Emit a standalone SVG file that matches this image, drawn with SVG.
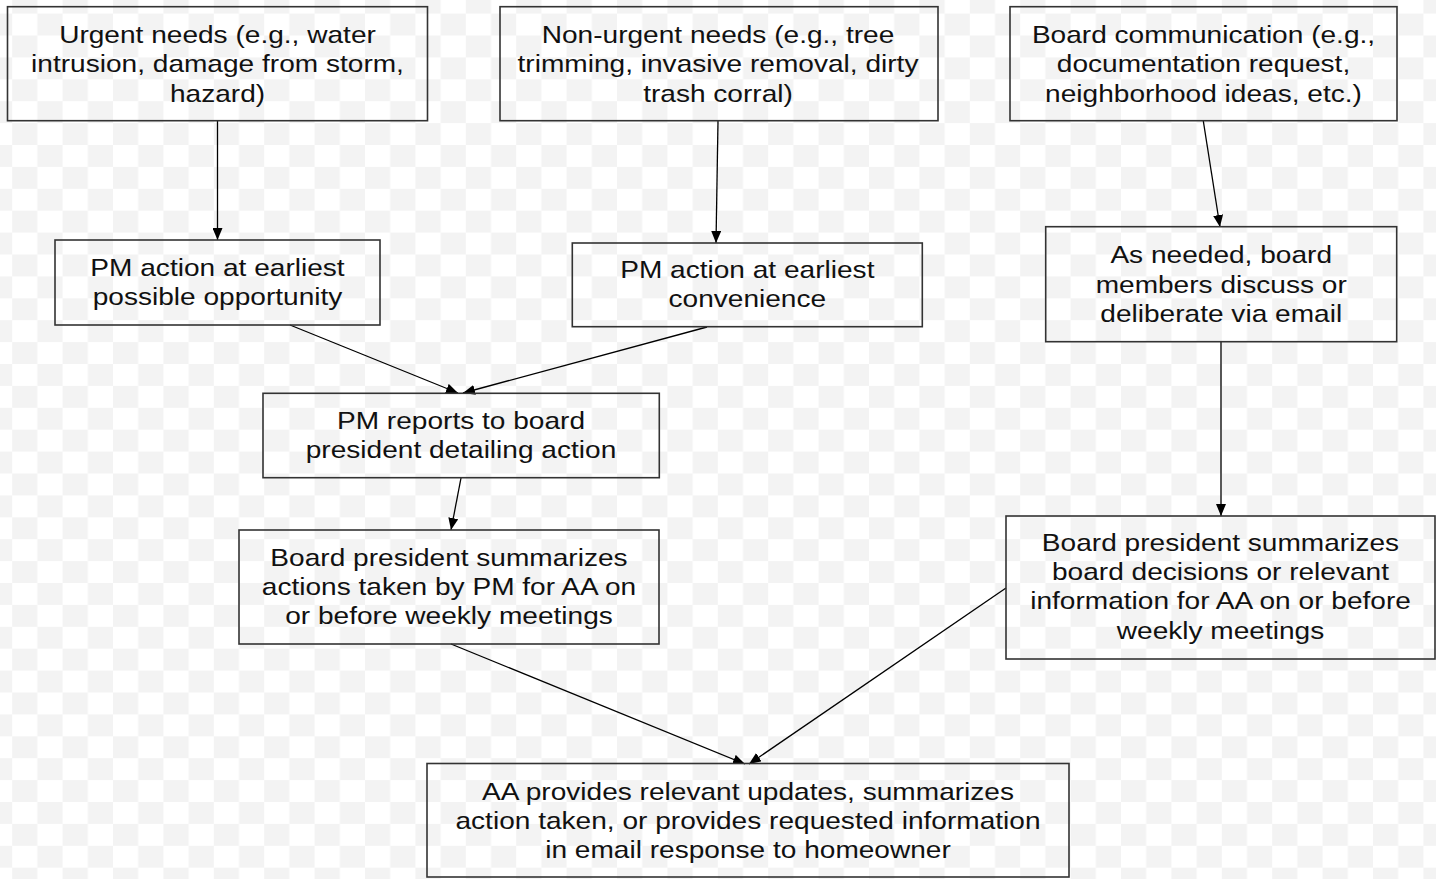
<svg xmlns="http://www.w3.org/2000/svg" width="1436" height="879" viewBox="0 0 1436 879">
  <defs>
    <pattern id="checker" patternUnits="userSpaceOnUse" x="12.2" y="13.6" width="50.4" height="43.8">
      <rect x="0" y="0" width="50.4" height="43.8" fill="#ffffff"/>
      <rect x="25.2" y="0" width="25.2" height="21.9" fill="#f3f3f3"/>
      <rect x="0" y="21.9" width="25.2" height="21.9" fill="#f3f3f3"/>
    </pattern>
    <marker id="arrow" viewBox="0 0 12 10" refX="12" refY="5" markerWidth="12" markerHeight="10" markerUnits="userSpaceOnUse" orient="auto">
      <path d="M0,0 L12,5 L0,10 z" fill="#000"/>
    </marker>
    <style>
      .box { fill: none; stroke: #333; stroke-width: 1.6; }
      .lbl { font-family: "Liberation Sans", Arial, sans-serif; font-size: 24px; fill: #111; text-anchor: middle; }
      .conn line { stroke: #000; stroke-width: 1.3; marker-end: url(#arrow); }
    </style>
  </defs>

  <rect x="0" y="0" width="1436" height="879" fill="url(#checker)"/>

  <g id="connectors" class="conn">
    <line x1="217.5" y1="121" x2="217.5" y2="240"/>
    <line x1="718" y1="121" x2="716" y2="243"/>
    <line x1="1203.3" y1="121" x2="1220" y2="227"/>
    <line x1="290" y1="325" x2="458" y2="393"/>
    <line x1="707" y1="327" x2="463" y2="393"/>
    <line x1="1221" y1="342" x2="1221" y2="516"/>
    <line x1="461" y1="478" x2="451" y2="530"/>
    <line x1="451" y1="644" x2="745" y2="764"/>
    <line x1="1006" y1="588" x2="749" y2="764"/>
  </g>

  <g id="node-urgent">
    <rect class="box" x="7.5" y="6.7" width="420" height="114"/>
    <g transform="translate(217.5 0) scale(1.17 1)">
      <text class="lbl"><tspan x="0" y="43.3">Urgent needs (e.g., water</tspan><tspan x="0" y="72.5">intrusion, damage from storm,</tspan><tspan x="0" y="101.7">hazard)</tspan></text>
    </g>
  </g>

  <g id="node-nonurgent">
    <rect class="box" x="500" y="6.7" width="438" height="114"/>
    <g transform="translate(718 0) scale(1.17 1)">
      <text class="lbl"><tspan x="0" y="43.3">Non-urgent needs (e.g., tree</tspan><tspan x="0" y="72.5">trimming, invasive removal, dirty</tspan><tspan x="0" y="101.7">trash corral)</tspan></text>
    </g>
  </g>

  <g id="node-board-comm">
    <rect class="box" x="1010" y="6.7" width="387" height="114"/>
    <g transform="translate(1203.5 0) scale(1.17 1)">
      <text class="lbl"><tspan x="0" y="43.3">Board communication (e.g.,</tspan><tspan x="0" y="72.5">documentation request,</tspan><tspan x="0" y="101.7">neighborhood ideas, etc.)</tspan></text>
    </g>
  </g>

  <g id="node-pm-earliest">
    <rect class="box" x="55" y="240" width="325" height="85"/>
    <g transform="translate(217.5 0) scale(1.17 1)">
      <text class="lbl"><tspan x="0" y="276">PM action at earliest</tspan><tspan x="0" y="305">possible opportunity</tspan></text>
    </g>
  </g>

  <g id="node-pm-convenience">
    <rect class="box" x="572.3" y="243" width="350" height="83.7"/>
    <g transform="translate(747.3 0) scale(1.17 1)">
      <text class="lbl"><tspan x="0" y="278">PM action at earliest</tspan><tspan x="0" y="307">convenience</tspan></text>
    </g>
  </g>

  <g id="node-board-discuss">
    <rect class="box" x="1045.7" y="226.7" width="351" height="115"/>
    <g transform="translate(1221.2 0) scale(1.17 1)">
      <text class="lbl"><tspan x="0" y="263.5">As needed, board</tspan><tspan x="0" y="292.7">members discuss or</tspan><tspan x="0" y="321.9">deliberate via email</tspan></text>
    </g>
  </g>

  <g id="node-pm-reports">
    <rect class="box" x="263" y="393.3" width="396.3" height="84.4"/>
    <g transform="translate(461 0) scale(1.17 1)">
      <text class="lbl"><tspan x="0" y="429.3">PM reports to board</tspan><tspan x="0" y="458.3">president detailing action</tspan></text>
    </g>
  </g>

  <g id="node-president-actions">
    <rect class="box" x="239" y="530" width="420" height="114"/>
    <g transform="translate(449 0) scale(1.17 1)">
      <text class="lbl"><tspan x="0" y="566">Board president summarizes</tspan><tspan x="0" y="595">actions taken by PM for AA on</tspan><tspan x="0" y="624">or before weekly meetings</tspan></text>
    </g>
  </g>

  <g id="node-president-decisions">
    <rect class="box" x="1006" y="516" width="429" height="143"/>
    <g transform="translate(1220.5 0) scale(1.17 1)">
      <text class="lbl"><tspan x="0" y="551">Board president summarizes</tspan><tspan x="0" y="580.2">board decisions or relevant</tspan><tspan x="0" y="609.4">information for AA on or before</tspan><tspan x="0" y="638.6">weekly meetings</tspan></text>
    </g>
  </g>

  <g id="node-aa">
    <rect class="box" x="427" y="763.5" width="642" height="113.5"/>
    <g transform="translate(748 0) scale(1.17 1)">
      <text class="lbl"><tspan x="0" y="800">AA provides relevant updates, summarizes</tspan><tspan x="0" y="829">action taken, or provides requested information</tspan><tspan x="0" y="858">in email response to homeowner</tspan></text>
    </g>
  </g>
</svg>
